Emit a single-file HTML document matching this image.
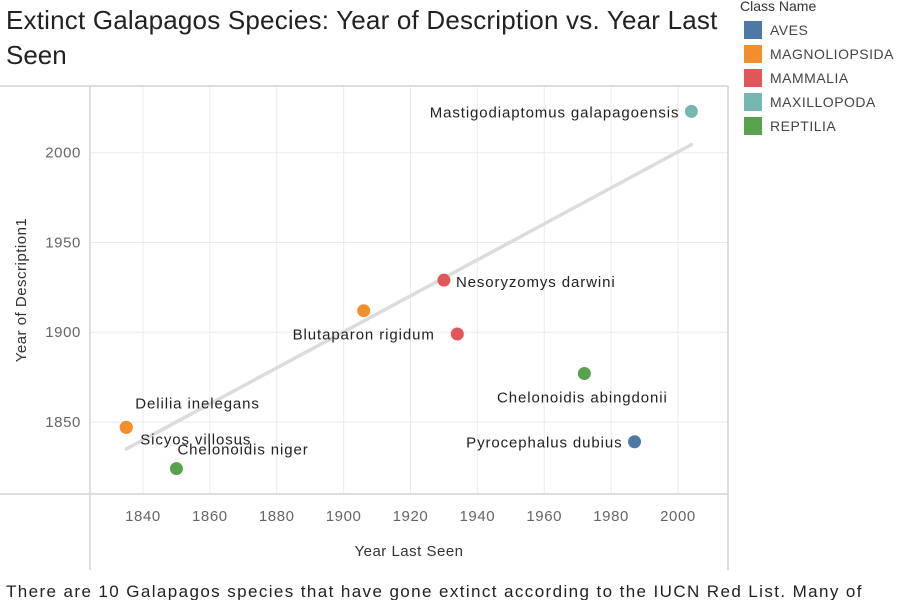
<!DOCTYPE html>
<html><head><meta charset="utf-8"><style>
body{margin:0;background:#fff;font-family:"Liberation Sans",sans-serif;}
#wrap{position:relative;width:900px;height:600px;overflow:hidden;}
</style></head><body><div id="wrap">
<svg id="chart" width="900" height="600">
<text x="6" y="29" font-size="26" fill="#222" letter-spacing="0.2">Extinct Galapagos Species: Year of Description vs. Year Last</text>
<text x="6" y="64" font-size="26" fill="#222">Seen</text>
<text x="6" y="597" font-size="17" fill="#222" letter-spacing="1.4">There are 10 Galapagos species that have gone extinct according to the IUCN Red List. Many of</text>
<g id="grid"></g>
<g id="trend"></g>
<g id="marks"></g>
<g id="legend"></g>
</svg>
<script>
const speciesNames=["Mastigodiaptomus galapagoensis","Nesoryzomys darwini","Blutaparon rigidum","Nesoryzomys indefessus","Chelonoidis abingdonii","Pyrocephalus dubius","Delilia inelegans","Sicyos villosus","Chelonoidis niger"];
const yearLastSeen=[2004,1930,1906,1934,1972,1987,1835,1835,1850];
const yearDescribed=[2023,1929,1912,1899,1877,1839,1847,1847,1824];
const speciesClass=["MAXILLOPODA","MAMMALIA","MAGNOLIOPSIDA","MAMMALIA","REPTILIA","AVES","MAGNOLIOPSIDA","MAGNOLIOPSIDA","REPTILIA"];
const showLabel=[true,true,true,false,true,true,true,true,true];
const classNames=["AVES","MAGNOLIOPSIDA","MAMMALIA","MAXILLOPODA","REPTILIA"];
const classColors=["#4e79a7","#f28e2b","#e15759","#76b7b2","#59a14f"];
const xTicks=[1840,1860,1880,1900,1920,1940,1960,1980,2000];
const yTicks=[1850,1900,1950,2000];
const trendX=[1835,2004];
const trendY=[1835,2004.5];
const NS="http://www.w3.org/2000/svg";
const X=v=>143+(v-1840)*(535/160);
const Y=v=>422-(v-1850)*(269.3/150);
function mk(p,t,a){const e=document.createElementNS(NS,t);for(const k in a)e.setAttribute(k,a[k]);p.appendChild(e);return e;}
const g=document.getElementById('grid');
xTicks.forEach(t=>{const l=mk(g,'line',{x1:X(t),x2:X(t),y1:86,y2:494,stroke:'#ebebeb'});


const tx=mk(g,'text',{x:X(t),y:521,'font-size':15,fill:'#666','text-anchor':'middle','letter-spacing':0.6});tx.textContent=t;

});
yTicks.forEach(t=>{const l=mk(g,'line',{x1:90,x2:728,y1:Y(t),y2:Y(t),stroke:'#ebebeb'});


const tx=mk(g,'text',{x:81,y:Y(t)+5,'font-size':15,fill:'#666','text-anchor':'end','letter-spacing':0.6});tx.textContent=t;

});
[[0,86,728,86],[0,494,728,494],[90,86,90,570],[728,86,728,570]].forEach(a=>{const l=mk(g,'line',{x1:a[0],y1:a[1],x2:a[2],y2:a[3],stroke:'#d4d4d4','stroke-width':1.5});

});
const xt=mk(g,'text',{x:409,y:556,'font-size':15,fill:'#333','text-anchor':'middle','letter-spacing':0.5});xt.textContent='Year Last Seen';


const yt=mk(g,'text',{x:0,y:0,'font-size':15,fill:'#333','text-anchor':'middle','letter-spacing':0.5,transform:'translate(26,290) rotate(-90)'});yt.textContent='Year of Description1';


const tl=mk(document.getElementById('trend'),'line',{x1:X(trendX[0]),y1:Y(trendY[0]),x2:X(trendX[1]),y2:Y(trendY[1]),stroke:'#dcdcdc','stroke-width':3.5,'stroke-linecap':'round'});


const m=document.getElementById('marks');
const labelPos={"Mastigodiaptomus galapagoensis":[-12,6,'end'],"Nesoryzomys darwini":[12,7,'start'],"Blutaparon rigidum":[0,29,'middle'],"Chelonoidis abingdonii":[-2,29,'middle'],"Pyrocephalus dubius":[-12,6,'end'],"Delilia inelegans":[9,-19,'start'],"Sicyos villosus":[14,17,'start'],"Chelonoidis niger":[1,-14,'start']};
speciesNames.forEach((n,i)=>{const cx=X(yearLastSeen[i]),cy=Y(yearDescribed[i]);
const c=mk(m,'circle',{cx:cx,cy:cy,r:6.5,fill:classColors[classNames.indexOf(speciesClass[i])]});


if(showLabel[i]){const p=labelPos[n];const t=mk(m,'text',{x:cx+p[0],y:cy+p[1],'font-size':15,fill:'#222','text-anchor':p[2],'letter-spacing':0.9});t.textContent=n;

}});
const lg=document.getElementById('legend');
const lt=mk(lg,'text',{x:740,y:11,'font-size':14,fill:'#333'});lt.textContent='Class Name';


classNames.forEach((n,i)=>{const y=21+i*24;
const r=mk(lg,'rect',{x:744,y:y,width:18,height:18,fill:classColors[i]});


const t=mk(lg,'text',{x:770,y:y+14,'font-size':14,fill:'#444','letter-spacing':'0.5'});t.textContent=n;

});
</script></div></body></html>
